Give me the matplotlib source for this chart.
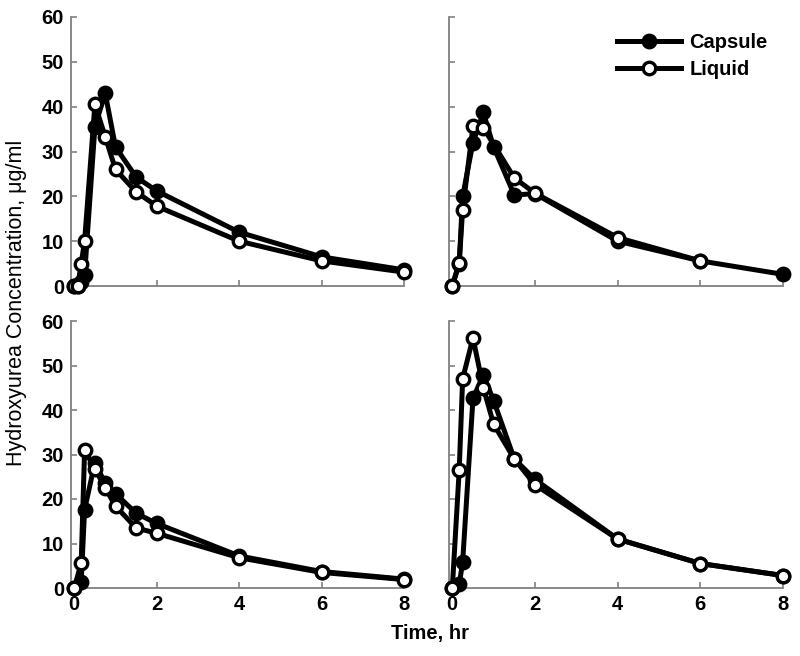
import numpy as np
import matplotlib
matplotlib.use("Agg")
import matplotlib.pyplot as plt
from matplotlib.lines import Line2D

plt.rcParams['font.family'] = ['Liberation Sans', 'DejaVu Sans']

# sampling times (hr)
times = [0, 0.083, 0.167, 0.25, 0.5, 0.75, 1, 1.5, 2, 4, 6, 8]
nan = float('nan')

# panel A (top-left)
capsule_a = [0, 0, 1.0, 2.5, 35.5, 43.0, 31.0, 24.3, 21.2, 12.0, 6.5, 3.6]
liquid_a = [0, 0, 5.0, 10.0, 40.5, 33.3, 26.0, 21.0, 17.8, 10.0, 5.6, 3.1]
# panel B (top-right)
capsule_b = [0, nan, 5.0, 20.0, 32.0, 38.7, 31.0, 20.3, 20.6, 10.0, 5.6, 2.6]
liquid_b = [0, nan, 5.2, 17.0, 35.6, 35.3, nan, 24.1, 20.7, 10.8, 5.6, nan]
# panel C (bottom-left)
capsule_c = [0, nan, 1.3, 17.6, 28.2, 23.5, 21.2, 16.8, 14.5, 7.2, 3.7, 2.0]
liquid_c = [0, nan, 5.6, 31.0, 26.8, 22.5, 18.4, 13.5, 12.3, 6.8, 3.5, 1.9]
# panel D (bottom-right)
capsule_d = [0, nan, 0.8, 5.8, 42.6, 47.9, 42.1, 29.0, 24.4, 11.0, 5.5, 2.8]
liquid_d = [0, nan, 26.5, 47.0, 56.2, 45.0, 36.8, 29.0, 23.2, 11.0, 5.5, 2.8]

series_labels = ['Capsule', 'Liquid']
xticks = [0, 2, 4, 6, 8]
yticks = [0, 10, 20, 30, 40, 50, 60]

W, H = 800, 656
fig = plt.figure(figsize=(W / 100, H / 100), dpi=100)

def px_axes(left, right, top, bottom):
    return fig.add_axes([left / W, 1 - bottom / H, (right - left) / W, (bottom - top) / H])

panels = [
    (px_axes(71, 404, 17, 286), capsule_a, liquid_a, False, True),
    (px_axes(449, 783, 17, 286), capsule_b, liquid_b, False, False),
    (px_axes(71, 404, 321, 588), capsule_c, liquid_c, True, True),
    (px_axes(449, 783, 321, 588), capsule_d, liquid_d, True, False),
]

LW, MS, MEW = 3.6, 9.0, 2.4
spine_col = '#808080'
t = np.array(times, dtype=float)
for ax, cap, liq, xlab, ylab in panels:
    for vals, face, z in ((cap, 'black', 3), (liq, 'white', 4)):
        v = np.array(vals, dtype=float)
        m = np.isfinite(v)
        ax.plot(t[m], v[m], '-', color='black', lw=LW, marker='o', ms=MS,
                mfc=face, mec='black', mew=MEW, zorder=z, clip_on=False)
    ax.set_xlim(-0.08, 8.0)
    ax.set_ylim(0, 60)
    ax.set_xticks(xticks)
    ax.set_yticks(yticks)
    for s in ('top', 'right'):
        ax.spines[s].set_visible(False)
    for s in ('left', 'bottom'):
        ax.spines[s].set_color(spine_col)
        ax.spines[s].set_linewidth(1.3)
    ax.tick_params(direction='in', length=4, width=1.2, color=spine_col,
                   labelsize=14.5, pad=5)
    if not xlab:
        ax.set_xticklabels([])
    if not ylab:
        ax.set_yticklabels([])
    for lab in ax.get_xticklabels() + ax.get_yticklabels():
        lab.set_fontweight('bold')

cap_h = Line2D([], [], color='black', lw=LW, marker='o', ms=MS, mfc='black', mec='black', mew=MEW)
liq_h = Line2D([], [], color='black', lw=LW, marker='o', ms=MS, mfc='white', mec='black', mew=MEW)
fig.legend([cap_h, liq_h], series_labels, loc='upper left',
           bbox_to_anchor=(617 / W, 1 - 33 / H), frameon=False,
           prop={'weight': 'bold', 'size': 14.5}, handlelength=3.2,
           handletextpad=0.4, labelspacing=0.4, borderpad=0, borderaxespad=0)

fig.text(17 / W, 1 - 303 / H, 'Hydroxyurea Concentration, μg/ml', rotation=90,
         ha='center', va='center', fontsize=15.5)
fig.text(430 / W, 1 - 634 / H, 'Time, hr', ha='center', va='center',
         fontsize=14.5, fontweight='bold')

fig.savefig('out.png', dpi=100)
